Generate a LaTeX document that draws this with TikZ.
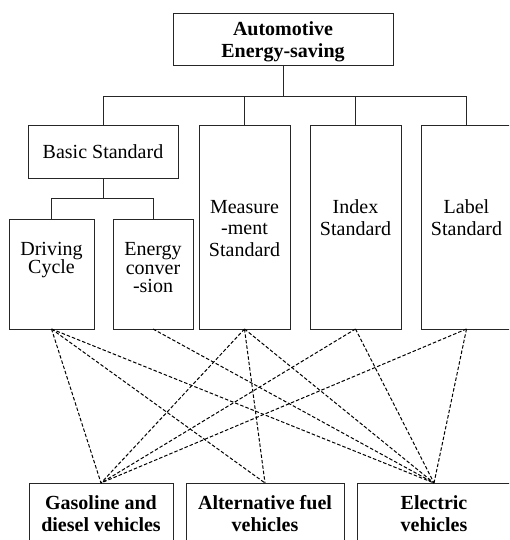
\documentclass[tikz,border=0pt]{standalone}
\usepackage{fontspec}
\setmainfont{Liberation Serif}
\newcommand\mytightlines{\lineskiplimit=-20pt\relax}
\begin{document}
\begin{tikzpicture}[x=1pt,y=-1pt,
  boxst/.style={draw=black!85,line width=0.9pt,inner sep=0pt,outer sep=0pt},
  txt/.style={inner sep=0pt,outer sep=0pt,align=center,font=\fontsize{20}{21.7}\selectfont},
  txtb/.style={txt,font=\fontsize{20}{21.7}\selectfont\bfseries},
  txtn/.style={inner sep=0pt,outer sep=0pt,align=center,font={\fontsize{20}{18.3}\selectfont\mytightlines}},
  tree/.style={draw=black!85,line width=0.9pt},
  link/.style={draw=black,line width=1pt,dash pattern=on 3.5pt off 2pt}]
\useasboundingbox (0,0) rectangle (509,540);
\clip (0,0) rectangle (509,540);
% boxes
\node[boxst,minimum width=220pt,minimum height=52pt] (top) at (283,39) {};
\node[boxst,minimum width=150pt,minimum height=53pt] (basic) at (103,151.5) {};
\node[boxst,minimum width=91pt,minimum height=204pt] (meas) at (244.5,227) {};
\node[boxst,minimum width=91pt,minimum height=204pt] (idx) at (355.5,227) {};
\node[boxst,minimum width=91pt,minimum height=204pt] (lab) at (466.5,227) {};
\node[boxst,minimum width=85pt,minimum height=110pt] (dc) at (51.5,274) {};
\node[boxst,minimum width=80pt,minimum height=110pt] (ec) at (153,274) {};
\node[boxst,minimum width=144pt,minimum height=77pt] (gas) at (101,521.5) {};
\node[boxst,minimum width=158pt,minimum height=77pt] (alt) at (265,521.5) {};
\node[boxst,minimum width=154pt,minimum height=77pt] (ele) at (434,521.5) {};
% texts
\node[txtb,anchor=north] (ttop) at (283,21.5) {Automotive\\Energy-saving};
\node[txt,anchor=base] (tbasic) at (103,158.3) {Basic Standard};
\node[txt,anchor=north] (tmeas) at (244.5,200) {Measure\\-ment\\Standard};
\node[txt,anchor=north] (tidx) at (355.5,199.6) {Index\\Standard};
\node[txt,anchor=north] (tlab) at (466.5,199.6) {Label\\Standard};
\node[txtn,anchor=north] (tdc) at (51.5,242.3) {Driving\\Cycle};
\node[txtn,anchor=north] (tec) at (153,242.8) {Energy\\conver\\-sion};
\node[txtb,anchor=north] (tgas) at (101,495.5) {Gasoline and\\diesel vehicles};
\node[txtb,anchor=north] (talt) at (265,495.5) {Alternative fuel\\vehicles};
\node[txtb,anchor=north] (tele) at (434,495.5) {Electric\\vehicles};
% tree
\coordinate (bus) at (0,96);
\coordinate (bus2) at (0,198);
\draw[tree] (top.south) -- (top.south |- bus);
\draw[tree] (basic.north) |- (lab.north |- bus) -- (lab.north);
\draw[tree] (meas.north) -- (meas.north |- bus);
\draw[tree] (idx.north) -- (idx.north |- bus);
\draw[tree] (basic.south) -- (basic.south |- bus2);
\draw[tree] (dc.north) |- (ec.north |- bus2) -- (ec.north);
% dashed links
\draw[link] (dc.south) -- (gas.north);
\draw[link] (dc.south) -- (alt.north);
\draw[link] (dc.south) -- (ele.north);
\draw[link] (ec.south) -- (ele.north);
\draw[link] (meas.south) -- (gas.north);
\draw[link] (meas.south) -- (alt.north);
\draw[link] (meas.south) -- (ele.north);
\draw[link] (idx.south) -- (gas.north);
\draw[link] (idx.south) -- (ele.north);
\draw[link] (lab.south) -- (gas.north);
\draw[link] (lab.south) -- (ele.north);
\end{tikzpicture}
\end{document}
